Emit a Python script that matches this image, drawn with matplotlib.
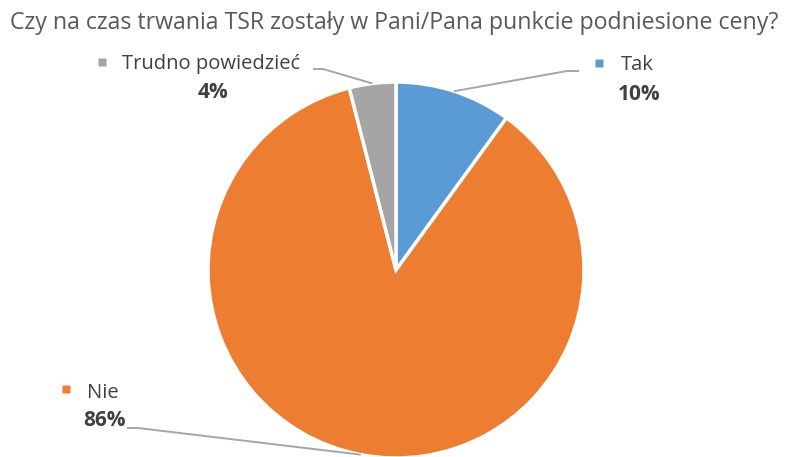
import matplotlib
matplotlib.use('Agg')
import matplotlib.pyplot as plt
import numpy as np

plt.rcParams['font.family'] = ['Open Sans', 'DejaVu Sans']

title = 'Czy na czas trwania TSR zostały w Pani/Pana punkcie podniesione ceny?'
labels = ['Tak', 'Nie', 'Trudno powiedzieć']
values = [10, 86, 4]
colors = ['#5B9BD5', '#ED7D31', '#A5A5A5']

W, H = 787, 457
fig = plt.figure(figsize=(W / 100, H / 100), dpi=100)
ax = fig.add_axes([0, 0, 1, 1])

def py(y):
    # pixel row from top -> data y
    return H - y

cx, cy, r = 396, py(270), 188
wedges, _ = ax.pie(values, colors=colors, startangle=90, counterclock=False,
                   center=(cx, cy), radius=r, frame=True,
                   wedgeprops=dict(edgecolor='white', linewidth=2.5))
ax.set_xlim(0, W)
ax.set_ylim(0, H)
ax.axis('off')

# label layout in pixels from top-left
layout = {
    'Tak': dict(sq=(599, 63), lab=(621, 63), pct=(639, 92), elbow=[(567, 71), (579, 71)]),
    'Nie': dict(sq=(66, 389), lab=(87, 390), pct=(104, 418), elbow=[(138, 428), (127, 428)]),
    'Trudno powiedzieć': dict(sq=(102, 62), lab=(122, 62), pct=(213, 90), elbow=[(323, 69), (313, 69)]),
}

txt = '#404040'
for w, lab, val, col in zip(wedges, labels, values, colors):
    L = layout[lab]
    mid = np.deg2rad((w.theta1 + w.theta2) / 2)
    ax_x = cx + r * np.cos(mid)
    ax_y = cy + r * np.sin(mid)
    xs = [ax_x] + [p[0] for p in L['elbow']]
    ys = [ax_y] + [py(p[1]) for p in L['elbow']]
    ax.plot(xs, ys, color='#A6A6A6', lw=1.4, solid_capstyle='butt')
    ax.plot(L['sq'][0], py(L['sq'][1]), marker='s', ms=5.2, color=col, mec='none')
    ax.text(L['lab'][0], py(L['lab'][1]), lab, fontsize=14.5, color=txt,
            ha='left', va='center_baseline')
    ax.text(L['pct'][0], py(L['pct'][1]), f'{val}%', fontsize=15, color=txt,
            ha='center', va='center_baseline', fontweight='bold')

ax.text(394.5, py(20), title, fontsize=16.7, color='#595959', ha='center', va='center_baseline')

fig.savefig('out.png', dpi=100)
